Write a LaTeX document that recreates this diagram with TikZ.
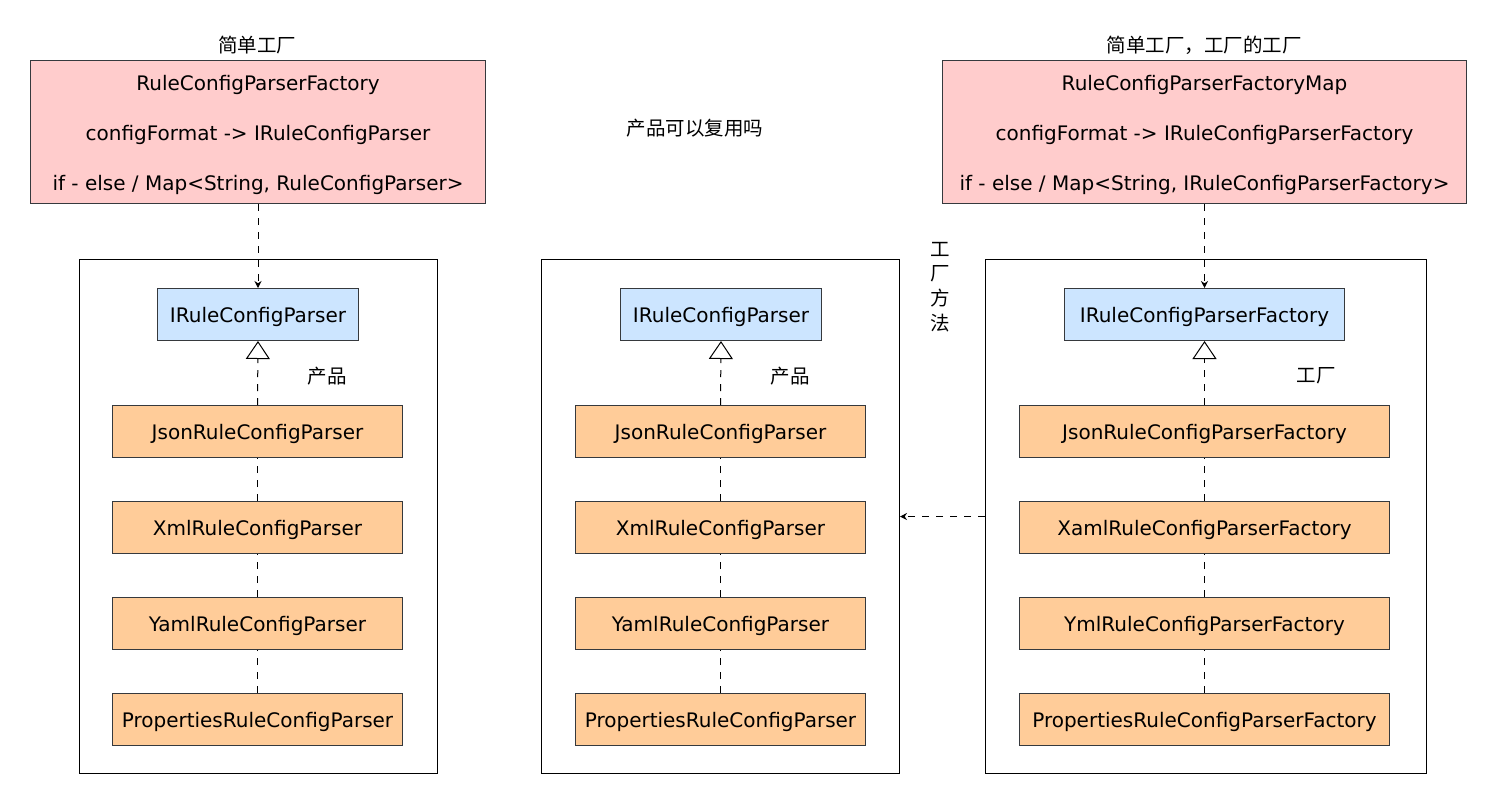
\documentclass[tikz,border=0pt]{standalone}
\usepackage{fontspec}
\setmainfont{DejaVu Sans}
\newfontfamily\cjk{Noto Sans CJK SC}
\usetikzlibrary{arrows.meta}
\definecolor{pinkfill}{HTML}{FFCCCC}
\definecolor{bluefill}{HTML}{CCE5FF}
\definecolor{orangefill}{HTML}{FFCC99}
\definecolor{edgegray}{HTML}{36393D}
\tikzset{
  base/.style={anchor=north west, inner sep=0pt, line width=1pt, font=\fontsize{20}{24}\selectfont, text height=16pt, text depth=0pt},
  pinkbox/.style={base, draw=edgegray, fill=pinkfill, minimum height=143pt, align=center, font=\fontsize{20}{50}\selectfont, text height=117pt, text depth=0pt},
  container/.style={base, draw=black, minimum height=514pt, minimum width=358pt},
  bluebox/.style={base, draw=edgegray, fill=bluefill, minimum height=52pt},
  orangebox/.style={base, draw=edgegray, fill=orangefill, minimum height=52pt},
  lbl/.style={inner sep=0pt, font=\fontsize{19.5}{24}\selectfont\cjk},
  dashline/.style={draw=black, line width=1pt, dash pattern=on 7pt off 7pt},
  usearrow/.style={dashline, -{Stealth[length=7pt,width=7pt]}},
  inherit/.style={dashline, -{Triangle[open,length=18pt,width=24pt,fill=white]}},
}
\begin{document}
\begin{tikzpicture}[x=1pt,y=-1pt]
\useasboundingbox (0,0) rectangle (1497,804);

% containers
\node[container] (cL) at (79,259) {};
\node[container] (cM) at (541,259) {};
\node[container, minimum width=441pt] (cR) at (985,259) {};

% top boxes
\node[pinkbox, minimum width=455pt] (pL) at (30,60) {RuleConfigParserFactory\\configFormat -> IRuleConfigParser\\if - else / Map<String, RuleConfigParser>};
\node[pinkbox, minimum width=524pt] (pR) at (942,60) {RuleConfigParserFactoryMap\\configFormat -> IRuleConfigParserFactory\\if - else / Map<String, IRuleConfigParserFactory>};

\node[lbl] (tL) at (257,45) {简单工厂};
\node[lbl] (tR) at (1204,45) {简单工厂，工厂的工厂};
\node[lbl] (q) at (695,128) {产品可以复用吗};
\node[lbl, align=center, font=\fontsize{19.5}{24.7}\selectfont\cjk] (fm) at (940,287) {工\\厂\\方\\法};

% blue interfaces
\node[bluebox, minimum width=201pt] (bL) at (157,288) {IRuleConfigParser};
\node[bluebox, minimum width=201pt] (bM) at (620,288) {IRuleConfigParser};
\node[bluebox, minimum width=280pt] (bR) at (1064,288) {IRuleConfigParserFactory};

\node[lbl] (sL) at (327,376) {产品};
\node[lbl] (sM) at (790,376) {产品};
\node[lbl] (sR) at (1316,376) {工厂};

% orange implementations
\node[orangebox, minimum width=290pt] (oL1) at (112,405) {JsonRuleConfigParser};
\node[orangebox, minimum width=290pt] (oL2) at (112,501) {XmlRuleConfigParser};
\node[orangebox, minimum width=290pt] (oL3) at (112,597) {YamlRuleConfigParser};
\node[orangebox, minimum width=290pt] (oL4) at (112,693) {PropertiesRuleConfigParser};

\node[orangebox, minimum width=290pt] (oM1) at (575,405) {JsonRuleConfigParser};
\node[orangebox, minimum width=290pt] (oM2) at (575,501) {XmlRuleConfigParser};
\node[orangebox, minimum width=290pt] (oM3) at (575,597) {YamlRuleConfigParser};
\node[orangebox, minimum width=290pt] (oM4) at (575,693) {PropertiesRuleConfigParser};

\node[orangebox, minimum width=370pt] (oR1) at (1019,405) {JsonRuleConfigParserFactory};
\node[orangebox, minimum width=370pt] (oR2) at (1019,501) {XamlRuleConfigParserFactory};
\node[orangebox, minimum width=370pt] (oR3) at (1019,597) {YmlRuleConfigParserFactory};
\node[orangebox, minimum width=370pt] (oR4) at (1019,693) {PropertiesRuleConfigParserFactory};

% connectors
\draw[usearrow] (pL.south) -- (bL.north);
\draw[usearrow] (pR.south) -- (bR.north);
\draw[usearrow] (cR.west) -- (cM.east);

\foreach \s in {L,M,R}{
  \draw[inherit] (o\s1.north) -- (b\s.south);
  \draw[dashline] (o\s2.north) -- (o\s1.south);
  \draw[dashline] (o\s3.north) -- (o\s2.south);
  \draw[dashline] (o\s4.north) -- (o\s3.south);
}
\end{tikzpicture}
\end{document}
